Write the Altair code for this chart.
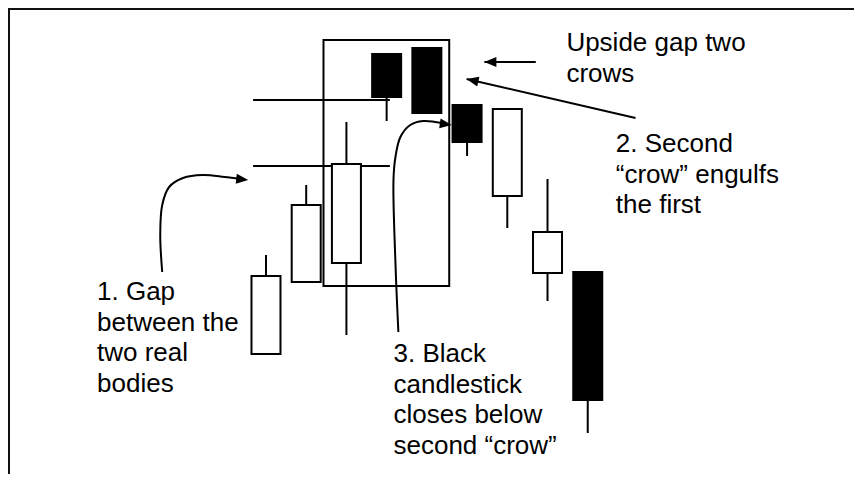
import altair as alt
import pandas as pd

# ---- candle data (slot index, prices in arbitrary units) ----
slots = [1, 2, 3, 4, 5, 6, 7, 8, 9]
opens = [60, 96, 105.5, 210, 213, 184.5, 139, 100.5, 101]
closes = [99, 134.5, 155, 188.5, 180.5, 166, 182.5, 121, 37]
highs = [109.5, 144.5, 176, 210, 213, 184.5, 182.5, 147.5, 101]
lows = [60, 96, 69.5, 176.5, 180.5, 159, 123, 86.5, 20.5]

# gap levels (horizontal guide lines) and their extent
gap_levels = [187, 154]
gap_from = [0.68, 0.68]
gap_to = [4.08, 4.08]

# highlight box around the pattern
box_t = [2.43, 5.556]
box_p = [94, 217]

# annotation texts
labels = [
    "Upside gap two\ncrows",
    "2. Second\n\u201ccrow\u201d engulfs\nthe first",
    "1. Gap\nbetween the\ntwo real\nbodies",
    "3. Black\ncandlestick\ncloses below\nsecond \u201ccrow\u201d",
]
label_t = [8.469, 9.698, -3.201, 4.170]
label_p = [211.5, 161, 87, 56]

# arrow paths (id, points in data units)
arrow_ids = ["a1", "a1", "a2", "a2",
             "c1", "c1", "c1", "c1", "c1", "c1", "c1", "c1",
             "c2", "c2", "c2", "c2", "c2", "c2", "c2", "c2"]
arrow_t = [7.708, 6.43, 10.189, 5.988,
           -1.580, -1.629, -1.580, -1.408, -1.064, -0.572, -0.032, 0.361,
           4.292, 4.219, 4.170, 4.219, 4.342, 4.587, 4.907, 5.373]
arrow_p = [206, 206, 178, 197.5,
           101, 119.5, 134.5, 143.5, 148, 149.5, 148.5, 147.5,
           71, 105.5, 147, 158.5, 168.5, 174.5, 176.5, 175.5]

# arrow tips
tip_t = [6.43, 5.988, 0.558, 5.619]
tip_p = [206, 197.5, 147, 174.5]
tip_angle = [0, 12.8, 186, 188]

# ---- tables ----
candles = pd.DataFrame({
    "t": slots, "open": opens, "close": closes, "high": highs, "low": lows,
})
candles["dir"] = ["up" if c > o else "down" for o, c in zip(opens, closes)]

gaps = pd.DataFrame({"t1": gap_from, "t2": gap_to, "p": gap_levels})
box = pd.DataFrame({"t1": [box_t[0]], "t2": [box_t[1]], "p1": [box_p[0]], "p2": [box_p[1]]})
texts = pd.DataFrame({"t": label_t, "p": label_p, "label": labels})
arrows = pd.DataFrame({"id": arrow_ids, "t": arrow_t, "p": arrow_p,
                       "i": list(range(len(arrow_ids)))})
tips = pd.DataFrame({"t": tip_t, "p": tip_p, "a": tip_angle})

W, H = 846, 466
xs = alt.Scale(domain=[-5.29, 15.496], nice=False, zero=False)
ys = alt.Scale(domain=[0, 233], nice=False, zero=False)

X = lambda f: alt.X(f, type="quantitative", scale=xs, axis=None)
Y = lambda f: alt.Y(f, type="quantitative", scale=ys, axis=None)

wicks = alt.Chart(candles).mark_rule(color="black", strokeWidth=2).encode(
    x=X("t"), y=Y("low"), y2="high"
)
bodies = alt.Chart(candles).mark_bar(width=29, stroke="black", strokeWidth=2).encode(
    x=X("t"), y=Y("open"), y2="close",
    fill=alt.Fill("dir:N", scale=alt.Scale(domain=["up", "down"], range=["white", "black"]), legend=None),
)
gap_lines = alt.Chart(gaps).mark_rule(color="black", strokeWidth=2).encode(
    x=X("t1"), x2="t2", y=Y("p")
)
box_mark = alt.Chart(box).mark_rect(fillOpacity=0, stroke="black", strokeWidth=2).encode(
    x=X("t1"), x2="t2", y=Y("p1"), y2="p2"
)
arrow_lines = alt.Chart(arrows).mark_line(color="black", strokeWidth=2, interpolate="catmull-rom").encode(
    x=X("t"), y=Y("p"), detail="id:N", order="i:Q"
)
arrow_heads = alt.Chart(tips).mark_point(
    shape="M0,0L2.4,-1L2.4,1Z", filled=True, size=100, color="black", opacity=1
).encode(
    x=X("t"), y=Y("p"), angle=alt.Angle("a:Q", scale=None)
)
text_mark = alt.Chart(texts).mark_text(
    align="left", baseline="alphabetic", font="Liberation Sans", fontSize=26,
    lineBreak="\n", lineHeight=30.5, color="black"
).encode(x=X("t"), y=Y("p"), text="label:N")

frame_df = pd.DataFrame({"k": [0]})
top_border = alt.Chart(frame_df).mark_rule(color="#111", strokeWidth=2).encode(
    x=alt.value(0), x2=alt.value(W), y=alt.value(1)
)
left_border = alt.Chart(frame_df).mark_rule(color="#111", strokeWidth=2).encode(
    x=alt.value(1), y=alt.value(0), y2=alt.value(H)
)

chart = alt.layer(
    top_border, left_border, box_mark, gap_lines, wicks, bodies,
    arrow_lines, arrow_heads, text_mark
).properties(
    width=W, height=H, padding=0, autosize=alt.AutoSizeParams(type="none"),
    background="white"
).configure_view(stroke=None)

chart.save("out.html", embed_options={"renderer": "svg", "actions": False})
